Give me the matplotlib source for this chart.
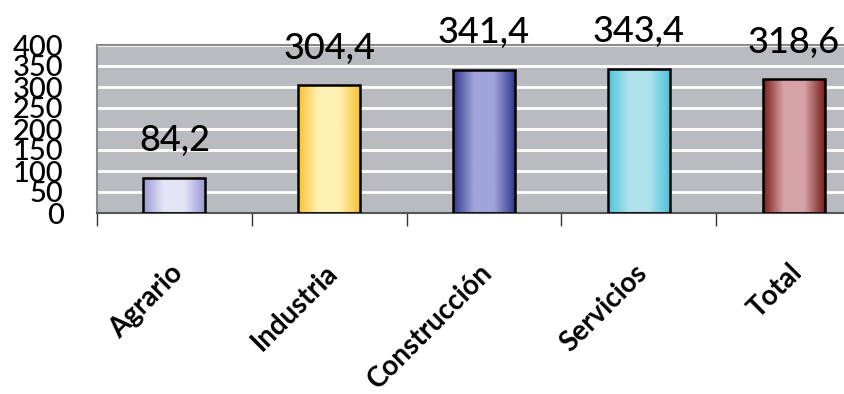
import numpy as np
import matplotlib
matplotlib.use("Agg")
import matplotlib.pyplot as plt
from matplotlib.colors import LinearSegmentedColormap

# Datos por sector
sectores = ['Agrario', 'Industria', 'Construcción', 'Servicios', 'Total']
valores = [84.2, 304.4, 341.4, 343.4, 318.6]
etiquetas = ['84,2', '304,4', '341,4', '343,4', '318,6']

# Colores de borde y centro del degradado de cada barra
col_borde = ['#9a9ad6', '#f7c235', '#30388f', '#4cc3d9', '#7a1c1c']
col_centro = ['#e4e4f6', '#fff1b3', '#a0a4da', '#aee2ec', '#d6a3a7']

plt.rcParams['font.family'] = ['Lato', 'DejaVu Sans']

fig = plt.figure(figsize=(8.44, 3.94), dpi=100)
ax = fig.add_axes([97 / 844, 181 / 394, 774 / 844, 168 / 394])
ax.set_facecolor('#b8bbc0')

x = np.arange(len(sectores))
ancho = 0.4
barras = ax.bar(x, valores, width=ancho, color='none', edgecolor='black',
                linewidth=1.8, zorder=3)

# Degradado horizontal dentro de cada barra
grad = np.linspace(0, 1, 256).reshape(1, -1)
for b, cb, cc in zip(barras, col_borde, col_centro):
    cmap = LinearSegmentedColormap.from_list('g', [cb, cc, cc, cb], N=256)
    x0, y0 = b.get_x(), b.get_y()
    im = ax.imshow(grad, cmap=cmap, aspect='auto', interpolation='bicubic',
                   extent=(x0, x0 + b.get_width(), y0, y0 + b.get_height()),
                   zorder=2)
    im.set_clip_path(b)

# Etiquetas de valor sobre las barras
for xi, v, t in zip(x, valores, etiquetas):
    ax.annotate(t, (xi, v), xytext=(0, 19), textcoords='offset points',
                ha='center', va='baseline', fontsize=26, fontweight='medium',
                color='black', annotation_clip=False, zorder=5)

ax.set_xlim(-0.5, len(sectores) - 0.5)
ax.set_ylim(0, 400)
ax.set_yticks(np.arange(0, 401, 50))
ax.tick_params(axis='y', length=0, pad=24, labelsize=21)
for lbl in ax.get_yticklabels():
    lbl.set_fontweight('medium')
ax.yaxis.grid(True, color='white', linewidth=2)
ax.set_axisbelow(True)

# Marcas entre categorías y nombres girados
ax.set_xticks(np.arange(-0.5, len(sectores), 1.0))
ax.set_xticklabels([])
ax.tick_params(axis='x', length=9, width=1, color='#333333', direction='out')
for xi, nombre in zip(x, sectores):
    ax.annotate(nombre, (xi, 0), xytext=(3, -40), textcoords='offset points',
                ha='right', va='center', rotation=45, rotation_mode='anchor',
                fontsize=20, fontweight='bold', annotation_clip=False)

for lado in ['top', 'left', 'right']:
    ax.spines[lado].set_color('#8a8a8a')
    ax.spines[lado].set_linewidth(1.5)
ax.spines['bottom'].set_color('#555555')
ax.spines['bottom'].set_linewidth(1.5)

fig.savefig('out.png', dpi=100)
